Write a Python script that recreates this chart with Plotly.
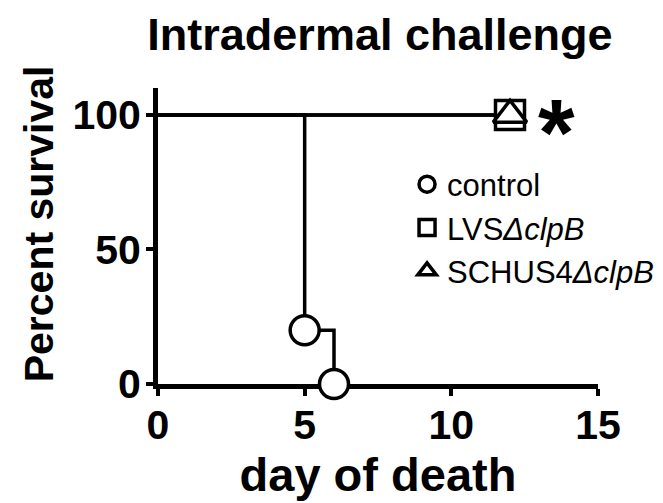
import plotly.graph_objects as go

# ---- data ----
group_names = ["control", "LVS<i>ΔclpB</i>", "SCHUS4<i>ΔclpB</i>"]
control_days = [0, 5, 6]
control_survival = [100, 20, 0]
control_event_days = [5, 6]
control_event_survival = [20, 0]
lvs_days = [0, 12]
lvs_survival = [100, 100]
lvs_event_days = [12]
lvs_event_survival = [100]
schus4_days = [0, 12]
schus4_survival = [100, 100]
schus4_event_days = [12]
schus4_event_survival = [100]
x_tick_values = [0, 5, 10, 15]
y_tick_values = [0, 50, 100]
title_text = "Intradermal challenge"
x_title = "day of death"
y_title = "Percent survival"
significance_mark = "*"

FONT = "Liberation Sans, Arial, sans-serif"
LW = 3.5
MS = 29

fig = go.Figure()

series = [
    (control_days, control_survival, control_event_days, control_event_survival, "circle", group_names[0]),
    (lvs_days, lvs_survival, lvs_event_days, lvs_event_survival, "square", group_names[1]),
    (schus4_days, schus4_survival, schus4_event_days, schus4_event_survival, "triangle-up", group_names[2]),
]

# step lines first
for d, s, ed, es, sym, nm in series:
    fig.add_trace(go.Scatter(
        x=d, y=s, mode="lines", line=dict(color="black", width=LW, shape="hv"),
        showlegend=False, hoverinfo="skip", cliponaxis=False,
    ))

# event markers on top
for d, s, ed, es, sym, nm in series:
    fig.add_trace(go.Scatter(
        x=ed, y=es, mode="markers", name=nm,
        marker=dict(symbol=sym, size=MS, color="white",
                    line=dict(color="black", width=3.5)),
        cliponaxis=False,
    ))

fig.add_annotation(
    x=13.6, y=100, xref="x", yref="y", text="<b>" + significance_mark + "</b>", showarrow=False,
    font=dict(family=FONT, size=94, color="black"), yshift=-18,
)

# y-axis title as rotated annotation (slightly above the domain centre, as in the reference)
fig.add_annotation(
    x=-0.271, y=0.542, xref="paper", yref="paper", text="<b>" + y_title + "</b>",
    textangle=-90, showarrow=False, xanchor="center", yanchor="middle",
    font=dict(family=FONT, size=41, color="black"),
)

fig.update_layout(
    width=663, height=503,
    margin=dict(l=150, r=70, t=80, b=127),
    paper_bgcolor="white", plot_bgcolor="white",
    title=dict(text="<b>" + title_text + "</b>", x=0.561, xanchor="center",
               y=0.948, yanchor="middle",
               font=dict(family=FONT, size=45, color="black")),
    font=dict(family=FONT, color="black"),
    legend=dict(x=0.566, y=0.765, xanchor="left", yanchor="top",
                font=dict(family=FONT, size=31, color="black"),
                bgcolor="rgba(0,0,0,0)", itemsizing="trace", tracegroupgap=0),
    showlegend=True,
)

fig.update_xaxes(
    range=[0, 15], tickvals=x_tick_values, ticktext=[f"<b>{v}</b>" for v in x_tick_values],
    showline=True, linecolor="black", linewidth=5, ticks="outside", ticklen=7, tickwidth=4,
    tickcolor="black", showgrid=False, zeroline=False, layer="below traces",
    tickfont=dict(family=FONT, size=41, color="black"), ticklabelstandoff=-6,
    title=dict(text="<b>" + x_title + "</b>", font=dict(family=FONT, size=47, color="black"),
               standoff=12),
)
fig.update_yaxes(
    range=[0, 110], tickvals=y_tick_values, ticktext=[f"<b>{v}</b>" for v in y_tick_values],
    showline=True, linecolor="black", linewidth=5, ticks="outside", ticklen=7, tickwidth=4,
    tickcolor="black", showgrid=False, zeroline=False, layer="below traces",
    tickfont=dict(family=FONT, size=41, color="black"), ticklabelstandoff=-3,
)

fig.write_html("out.html")
